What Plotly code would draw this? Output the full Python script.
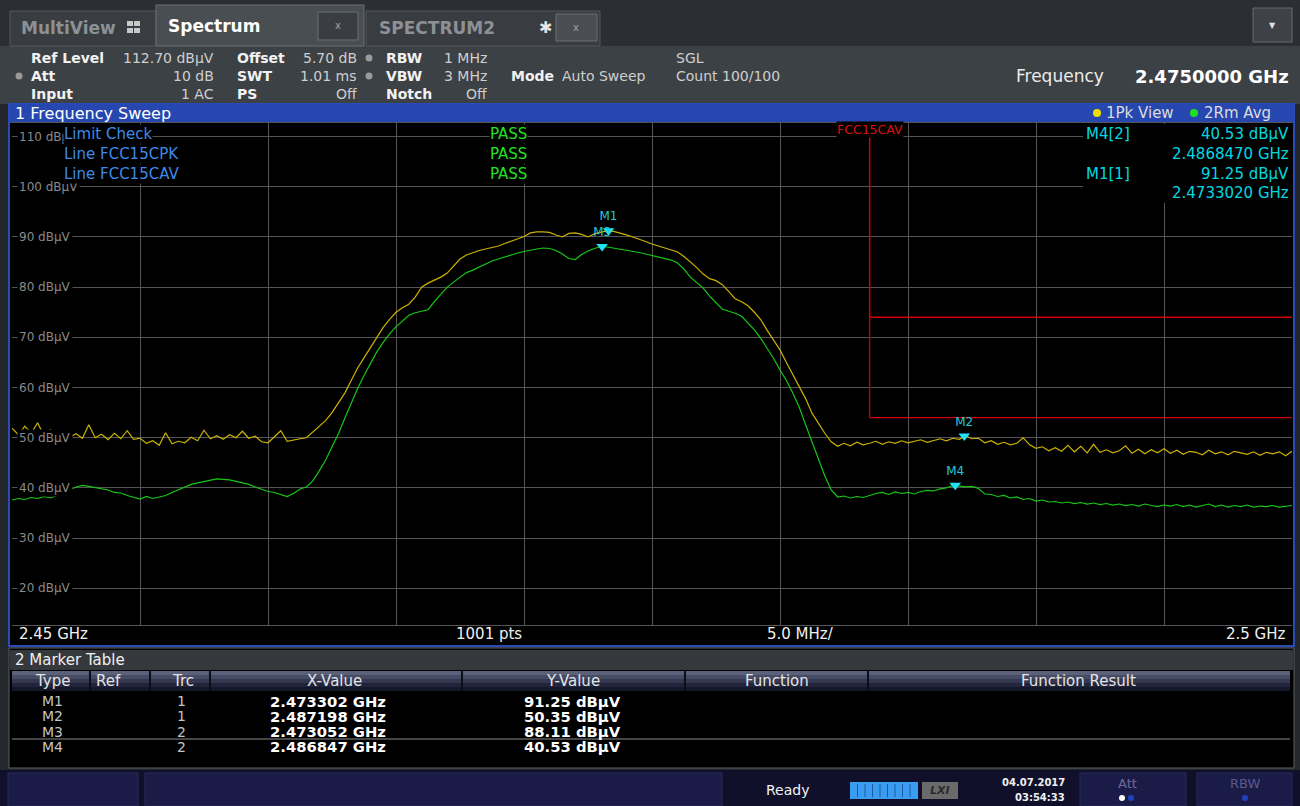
import numpy as np
import plotly.graph_objects as go

W, H = 1300, 806
FONT = "DejaVu Sans"

# sweep: 2.45 .. 2.50 GHz, values every 0.25 MHz
f_start = 2.45
f_stop = 2.50
n_pts = 201

pk_view = [
    51.9, 50.6, 52.3, 50.9, 53.0, 50.4, 51.6, 50.2, 51.2, 50.1, 50.8, 49.9, 52.6, 50.0, 50.7, 49.6, 50.9, 49.8, 51.4, 49.7,
    49.9, 48.9, 49.4, 48.5, 51.0, 48.8, 49.3, 49.0, 50.1, 49.4, 51.5, 49.8, 50.4, 49.7, 50.6, 50.0, 51.3, 49.9, 50.3, 49.2,
    49.0, 50.2, 51.4, 49.3, 49.6, 49.8, 50.0, 51.1, 52.2, 53.4, 55.0, 56.9, 58.9, 61.4, 63.9, 65.9, 67.9, 70.1, 72.0, 73.6,
    75.0, 75.9, 76.6, 78.0, 80.0, 80.8, 81.4, 82.0, 82.8, 84.3, 85.6, 86.4, 86.9, 87.3, 87.6, 87.9, 88.2, 88.7, 89.2, 89.6,
    90.1, 90.8, 91.0, 91.0, 90.9, 90.4, 90.0, 90.7, 90.8, 90.5, 90.0, 90.6, 90.9, 91.25, 91.1, 90.8, 90.4, 90.0, 89.6, 89.1,
    88.6, 88.2, 87.8, 87.4, 87.0, 86.1, 85.0, 83.9, 82.6, 81.7, 81.3, 80.5, 79.1, 77.7, 77.1, 76.3, 75.0, 73.5, 71.4, 69.5,
    67.5, 65.0, 62.6, 60.5, 57.8, 54.9, 52.8, 50.9, 49.2, 48.3, 48.9, 48.4, 49.1, 48.6, 48.9, 49.3, 48.7, 49.2, 48.9, 49.4,
    49.0, 49.3, 49.6, 49.1, 49.5, 49.8, 49.4, 49.9, 49.7, 50.35, 49.8, 49.9, 49.0, 49.4, 48.7, 49.1, 48.6, 48.9, 50.0, 48.6,
    47.9, 48.2, 47.4, 48.0, 47.3, 48.5, 47.2, 48.3, 47.0, 48.7, 47.1, 47.6, 47.0, 47.4, 48.4, 46.9, 47.7, 46.8, 47.6, 47.0,
    47.8, 46.9, 47.5, 46.7, 47.3, 47.1, 46.6, 47.5, 46.8, 47.2, 46.6, 47.3, 47.0, 46.7, 47.2, 46.5, 47.1, 46.8, 47.2, 46.4,
    47.3,
]

rm_avg = [
    37.6, 37.9, 37.7, 38.1, 37.9, 38.3, 38.0, 38.5, 38.7, 39.6, 40.2, 40.5, 40.3, 40.1, 39.8, 39.6, 39.1, 39.0, 38.5, 38.2,
    37.8, 38.3, 37.9, 38.2, 38.5, 39.1, 39.6, 40.2, 40.7, 41.0, 41.3, 41.5, 41.8, 41.7, 41.6, 41.3, 41.0, 40.7, 40.2, 39.8,
    39.3, 39.1, 38.7, 38.3, 38.9, 39.8, 40.2, 41.4, 43.4, 45.5, 48.2, 50.8, 53.9, 57.0, 59.8, 62.4, 64.9, 67.1, 69.0, 70.7,
    72.1, 73.3, 74.4, 74.9, 75.2, 75.5, 77.1, 78.6, 80.0, 81.0, 82.0, 82.9, 83.4, 84.0, 84.6, 85.2, 85.6, 86.0, 86.5, 86.8,
    87.1, 87.4, 87.6, 87.8, 87.7, 87.3, 86.6, 85.7, 85.5, 86.5, 87.2, 87.7, 88.1, 88.0, 87.8, 87.6, 87.4, 87.1, 86.9, 86.6,
    86.3, 86.0, 85.7, 85.4, 84.8, 83.6, 82.0, 80.9, 79.8, 78.2, 76.8, 75.6, 75.2, 74.8, 74.2, 72.9, 71.5, 69.8, 67.8, 65.8,
    63.5, 61.4, 58.9, 56.1, 52.6, 49.2, 45.8, 42.4, 39.6, 38.2, 38.4, 38.0, 38.3, 38.1, 38.5, 38.9, 39.1, 38.7, 39.2, 38.9,
    39.1, 38.8, 39.3, 39.5, 39.4, 39.8, 40.0, 40.5, 40.4, 40.2, 40.3, 39.9, 38.8, 38.7, 38.3, 38.5, 38.0, 38.2, 37.7, 37.9,
    37.4, 37.6, 37.2, 37.3, 37.0, 37.2, 36.9, 37.1, 36.8, 37.0, 36.7, 36.9, 36.6, 36.8, 36.5, 36.7, 36.4, 36.8, 36.5, 36.3,
    36.6, 36.4, 36.7, 36.3, 36.6, 36.2, 36.5, 36.8, 36.3, 36.6, 36.2, 36.5, 36.3, 36.6, 36.2, 36.4, 36.3, 36.5, 36.2, 36.4,
    36.5,
]

freq = np.linspace(f_start, f_stop, n_pts)

ref_level = 112.70
y_bottom = ref_level - 100
y_labels = [110, 100, 90, 80, 70, 60, 50, 40, 30, 20]

# limit lines FCC15CPK / FCC15CAV
limit_freq = [2.4835, 2.4835, 2.5]
fcc15cpk = [ref_level, 74.0, 74.0]
fcc15cav = [ref_level, 54.0, 54.0]

marker_names = ["M1", "M2", "M3", "M4"]
marker_trc = ["1", "1", "2", "2"]
marker_freq = [2.473302, 2.487198, 2.473052, 2.486847]
marker_level = [91.25, 50.35, 88.11, 40.53]


def px(x):
    return x / W


def py(y):
    return 1 - y / H


shapes = []
annotations = []


def rect(x0, y0, x1, y1, fill, line=None, lw=1, layer="below"):
    shapes.append(dict(type="rect", xref="paper", yref="paper",
                       x0=px(x0), x1=px(x1), y0=py(y0), y1=py(y1),
                       fillcolor=fill, layer=layer,
                       line=dict(color=line or fill, width=lw if line else 0)))


def hline(x0, x1, y, color, lw=1, layer="below"):
    shapes.append(dict(type="line", xref="paper", yref="paper",
                       x0=px(x0), x1=px(x1), y0=py(y), y1=py(y),
                       line=dict(color=color, width=lw), layer=layer))


def vline(x, y0, y1, color, lw=1, layer="below"):
    shapes.append(dict(type="line", xref="paper", yref="paper",
                       x0=px(x), x1=px(x), y0=py(y0), y1=py(y1),
                       line=dict(color=color, width=lw), layer=layer))


def dot(x, y, r, color):
    shapes.append(dict(type="circle", xref="paper", yref="paper",
                       x0=px(x - r), x1=px(x + r), y0=py(y - r), y1=py(y + r),
                       fillcolor=color, line=dict(width=0), layer="above"))


def txt(x, y, s, size=14, color="#e6e6e6", anchor="left", bold=False, bg=None, family=FONT):
    if bold:
        s = "<b>" + s + "</b>"
    a = dict(x=px(x), y=py(y), xref="paper", yref="paper", text=s,
             showarrow=False, xanchor=anchor, yanchor="middle",
             font=dict(family=family, size=size, color=color),
             borderpad=0)
    if bg:
        a["bgcolor"] = bg
    annotations.append(a)


# y level labels inside the grid (first, so the limit texts sit on top)
for v in y_labels:
    annotations.append(dict(x=px(17), y=v, xref="paper", yref="y",
                            text=f"{v} dBµV", showarrow=False,
                            xanchor="left", yanchor="middle", bgcolor="#000000",
                            font=dict(family=FONT, size=12, color="#8a8a8a")))

# ---- chrome ----
rect(0, 0, 1300, 46, "#2b2f33")
rect(0, 46, 1300, 104, "#3c4145")
rect(0, 646, 1300, 770, "#24272b")
rect(0, 770, 1300, 806, "#10102a")

# tabs
rect(10, 11, 156, 46, "#393d41", "#55595d")
txt(20, 28, "MultiView", 17, "#8d9195", bold=True)
for dx in (0, 7):
    for dy in (0, 7):
        rect(127 + dx, 21 + dy, 133 + dx, 26 + dy, "#c8c8c8")
rect(156, 5, 364, 46, "#494e53", "#6a6e72")
txt(167, 26, "Spectrum", 17, "#ffffff", bold=True)
rect(318, 12, 358, 40, "#3a3e42", "#6a6e72")
txt(338, 25, "x", 10, "#a0a0a0", anchor="center")
rect(366, 11, 600, 46, "#393d41", "#55595d")
txt(378, 28, "SPECTRUM2", 17, "#8d9195", bold=True)
txt(545, 27, "✱", 16, "#e8e8e8", anchor="center")
rect(556, 14, 597, 41, "#4a4e52", "#6a6e72")
txt(576, 27, "x", 10, "#a0a0a0", anchor="center")
rect(1253, 8, 1292, 42, "#3e4246", "#66696d")
txt(1272, 25, "▼", 8, "#e0e0e0", anchor="center")

# setting block
info = [
    (30, 58, "Ref Level", "left", True), (215, 58, "112.70 dBµV", "right", False),
    (236, 58, "Offset", "left", True), (358, 58, "5.70 dB", "right", False),
    (385, 58, "RBW", "left", True), (488, 58, "1 MHz", "right", False),
    (675, 58, "SGL", "left", False),
    (30, 76, "Att", "left", True), (215, 76, "10 dB", "right", False),
    (236, 76, "SWT", "left", True), (358, 76, "1.01 ms", "right", False),
    (385, 76, "VBW", "left", True), (488, 76, "3 MHz", "right", False),
    (510, 76, "Mode", "left", True), (561, 76, "Auto Sweep", "left", False),
    (675, 76, "Count 100/100", "left", False),
    (30, 94, "Input", "left", True), (215, 94, "1 AC", "right", False),
    (236, 94, "PS", "left", True), (358, 94, "Off", "right", False),
    (385, 94, "Notch", "left", True), (488, 94, "Off", "right", False),
]
for x, y, s, anc, b in info:
    txt(x, y, s, 14, "#f2f2f2" if b else "#cfcfcf", anchor=anc, bold=b)
dot(19, 76, 3.5, "#9a9a9a")
dot(369, 58, 3.5, "#9a9a9a")
dot(369, 76, 3.5, "#9a9a9a")
txt(1015, 76, "Frequency", 17, "#ececec")
txt(1290, 76, "2.4750000 GHz", 18, "#ffffff", anchor="right", bold=True)

# diagram window
rect(9, 104, 1294, 646, "#000000", "#2a4bb5", 2)
rect(9, 104, 1294, 123, "#2646b0")
txt(14, 113, "1 Frequency Sweep", 16, "#ffffff")
dot(1097, 113, 4, "#f0e000")
txt(1105, 113, "1Pk View", 15, "#dcdcdc")
dot(1194, 113, 4, "#20e020")
txt(1203, 113, "2Rm Avg", 15, "#dcdcdc")

# x-axis footer
txt(18, 634, "2.45 GHz", 15, "#f0f0f0")
txt(455, 634, "1001 pts", 15, "#f0f0f0")
txt(766, 634, "5.0 MHz/", 15, "#f0f0f0")
txt(1287, 634, "2.5 GHz", 15, "#f0f0f0", anchor="right")

# limit check / marker info boxes over the grid
rect(1083, 124, 1292, 203, "#000000", layer="above")
for i, s in enumerate(["Limit Check", "Line FCC15CPK", "Line FCC15CAV"]):
    txt(63, 134 + 20 * i, s, 15, "#3d8ae8", bg="#000000")
    txt(489, 134 + 20 * i, "PASS", 15, "#22e022", bg="#000000")
txt(836, 130, "FCC15CAV", 12.5, "#d81010", bg="#000000")
cyan = "#00d8e2"
txt(1085, 134, "M4[2]", 15, cyan)
txt(1290, 134, "40.53 dBµV", 15, cyan, anchor="right")
txt(1290, 154, "2.4868470 GHz", 15, cyan, anchor="right")
txt(1085, 174, "M1[1]", 15, cyan)
txt(1290, 174, "91.25 dBµV", 15, cyan, anchor="right")
txt(1290, 193, "2.4733020 GHz", 15, cyan, anchor="right")

# ---- marker table ----
rect(9, 648, 1294, 768, "#000000", "#5a5e62", 1)
rect(10, 650, 1293, 670, "#35393d")
txt(14, 660, "2 Marker Table", 15, "#f0f0f0")
bands = ["#5b6178", "#474c66", "#33374f", "#21243a", "#15172a"]
for i, c in enumerate(bands):
    rect(12, 671 + 4 * i, 1290, 675 + 4 * i, c)
for x in (90, 150, 210, 462, 685, 868):
    vline(x, 671, 691, "#0c0d18", 2)
heads = [(52, "Type"), (108, "Ref"), (183, "Trc"), (335, "X-Value"),
         (573, "Y-Value"), (777, "Function"), (1078, "Function Result")]
for x, s in heads:
    txt(x, 681, s, 15, "#e4e4e4", anchor="center")
hline(12, 1290, 739, "#8a8a8a", 1)
for i, name in enumerate(marker_names):
    y = 701 + 15.3 * i
    txt(52, y, name, 14, "#c4c4c4", anchor="center")
    txt(181, y, marker_trc[i], 14, "#c4c4c4", anchor="center")
    txt(328, y, f"{marker_freq[i]:.6f} GHz", 14.8, "#ffffff", anchor="center", bold=True)
    txt(572, y, f"{marker_level[i]:.2f} dBµV", 14.8, "#ffffff", anchor="center", bold=True)

# ---- status bar ----
rect(8, 773, 138, 806, "#1b1b47", "#2a2a5a")
rect(145, 773, 722, 806, "#1b1b47", "#2a2a5a")
txt(787, 790, "Ready", 14, "#f4f4f4", anchor="center")
rect(850, 782, 918, 799, "#3a9cf0")
for k in range(1, 9):
    vline(850 + 7.5 * k, 784, 797, "#1a5aa0", 1, layer="above")
rect(922, 782, 958, 799, "#6a6a6a")
txt(940, 790, "<i>LXI</i>", 11, "#2a2a2a", anchor="center", bold=True)
txt(1033, 782, "04.07.2017", 10, "#f0f0f0", anchor="center", bold=True)
txt(1040, 797, "03:54:33", 10, "#f0f0f0", anchor="center", bold=True)
rect(1080, 773, 1186, 806, "#1b1b47", "#2a2a5a")
txt(1127, 783, "Att", 13, "#6c6c9c", anchor="center")
dot(1122, 798, 3, "#ffffff")
dot(1131, 798, 3, "#2040c0")
rect(1197, 773, 1292, 806, "#1b1b47", "#2a2a5a")
txt(1245, 783, "RBW", 13, "#5a5a8a", anchor="center")
dot(1245, 798, 3, "#2040c0")

# ---- traces ----
fig = go.Figure()
fig.add_trace(go.Scatter(x=limit_freq, y=fcc15cpk, mode="lines",
                         line=dict(color="#d00000", width=1.3), name="FCC15CPK"))
fig.add_trace(go.Scatter(x=limit_freq, y=fcc15cav, mode="lines",
                         line=dict(color="#d00000", width=1.3), name="FCC15CAV"))
fig.add_trace(go.Scatter(x=freq, y=pk_view, mode="lines",
                         line=dict(color="#ccb200", width=1.2), name="1Pk View"))
fig.add_trace(go.Scatter(x=freq, y=rm_avg, mode="lines",
                         line=dict(color="#14c814", width=1.2), name="2Rm Avg"))
fig.add_trace(go.Scatter(x=marker_freq, y=marker_level, mode="markers+text",
                         text=marker_names, textposition="top center",
                         textfont=dict(family=FONT, size=12, color="#20c8d8"),
                         marker=dict(symbol="triangle-down", size=10, color="#20e4f4"),
                         name="markers"))

fig.update_layout(
    width=W, height=H,
    margin=dict(l=0, r=0, t=0, b=0),
    paper_bgcolor="#23262a",
    plot_bgcolor="#000000",
    showlegend=False,
    hovermode=False,
    shapes=shapes,
    annotations=annotations,
    xaxis=dict(domain=[px(12), px(1292)], range=[f_start, f_stop],
               tick0=f_start, dtick=0.005, showgrid=True, gridcolor="#555555",
               gridwidth=1, showticklabels=False, zeroline=False,
               showline=True, linecolor="#555555", mirror=True, ticks=""),
    yaxis=dict(domain=[py(625), py(123)], range=[y_bottom, ref_level],
               tick0=0, dtick=10, showgrid=True, gridcolor="#555555",
               gridwidth=1, showticklabels=False, zeroline=False,
               showline=False, ticks=""),
)

fig.write_html("out.html", config={"displayModeBar": False},
               post_script="document.body.style.margin='0';document.body.style.overflow='hidden';")
